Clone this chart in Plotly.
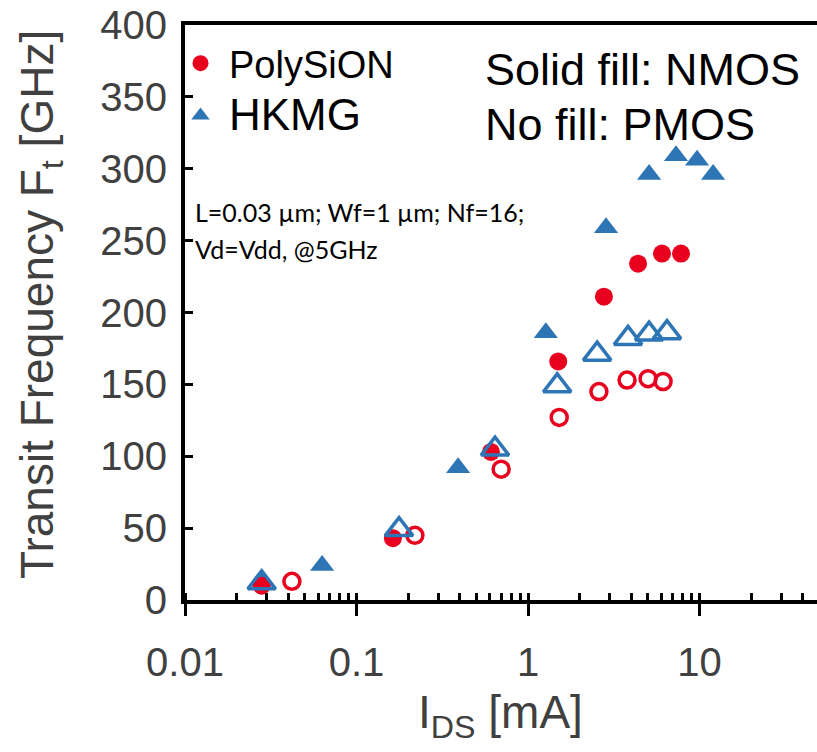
import plotly.graph_objects as go
import math

# PolySiON NMOS (solid fill)
poly_n_ids = [0.028, 0.163, 0.608, 1.50, 2.77, 4.38, 6.04, 7.80]
poly_n_ft = [10, 43, 103, 166, 211, 234, 241, 241]
# PolySiON PMOS (no fill)
poly_p_ids = [0.042, 0.219, 0.697, 1.52, 2.59, 3.78, 5.01, 6.13]
poly_p_ft = [13, 45, 91, 127, 145, 153, 154, 152]
# HKMG NMOS (solid fill)
hkmg_n_ids = [0.028, 0.063, 0.391, 1.27, 2.85, 5.08, 7.29, 9.67, 12.0]
hkmg_n_ft = [13, 24, 92, 186, 259, 296, 309, 306, 296]
# HKMG PMOS (no fill)
hkmg_p_ids = [0.028, 0.177, 0.642, 1.48, 2.53, 3.83, 5.08, 6.46]
hkmg_p_ft = [12, 49, 105, 149, 171, 182, 185, 186]

y_ticks = [0, 50, 100, 150, 200, 250, 300, 350, 400]
x_ticks = [0.01, 0.1, 1, 10]
x_tick_labels = ["0.01", "0.1", "1", "10"]

RED = "#E8001E"
BLUE = "#2E75B6"

W, H = 817, 752
ML, MR, MT, MB = 185, 0, 25, 152
pw = W - ML - MR
ph = H - MT - MB

def px_x(p):
    return (p - ML) / pw

def px_y(p):
    return (H - MB - p) / ph

fig = go.Figure()

fig.add_trace(go.Scatter(
    x=hkmg_n_ids, y=hkmg_n_ft, mode="markers", name="<span style='font-size:44px'>HKMG</span>",
    marker=dict(symbol="triangle-up", size=21, color=BLUE), showlegend=True, legendrank=2))
fig.add_trace(go.Scatter(
    x=poly_n_ids, y=poly_n_ft, mode="markers", name="PolySiON",
    marker=dict(symbol="circle", size=18, color=RED), showlegend=True, legendrank=1))
fig.add_trace(go.Scatter(
    x=poly_p_ids, y=poly_p_ft, mode="markers", name="PolySiON PMOS",
    marker=dict(symbol="circle-open", size=16, color=RED, line=dict(width=3.5, color=RED)),
    showlegend=False))
fig.add_trace(go.Scatter(
    x=hkmg_p_ids, y=hkmg_p_ft, mode="markers", name="HKMG PMOS",
    marker=dict(symbol="triangle-up-open", size=24, color=BLUE, line=dict(width=3.5, color=BLUE)),
    showlegend=False))

title_font = "Liberation Sans Narrow, Arial Narrow, Liberation Sans, Arial"
tick_font = dict(family="Liberation Sans, Arial", size=40, color="#404040")

fig.update_layout(
    width=W, height=H,
    margin=dict(l=ML, r=MR, t=MT, b=MB),
    plot_bgcolor="white", paper_bgcolor="white",
    showlegend=True,
    legend=dict(
        x=px_x(172), y=px_y(32), xanchor="left", yanchor="top",
        font=dict(family="Liberation Sans, Arial", size=38, color="black"),
        bgcolor="rgba(0,0,0,0)", borderwidth=0, itemwidth=47, tracegroupgap=0,
    ),
    xaxis=dict(
        type="log", range=[-2, math.log10(48.4)],
        tickvals=x_ticks, ticktext=x_tick_labels,
        ticks="outside", ticklen=12, tickwidth=3, tickcolor="black",
        minor=dict(ticks="inside", ticklen=7, tickwidth=2.5, tickcolor="black", dtick="D1", showgrid=False),
        showline=True, linewidth=4, linecolor="black", mirror=True,
        showgrid=False, zeroline=False,
        tickfont=tick_font, ticklabelstandoff=12,
    ),
    yaxis=dict(
        range=[0, 400], tickvals=y_ticks,
        ticks="inside", ticklen=8, tickwidth=3, tickcolor="black",
        showline=True, linewidth=4, linecolor="black",
        showgrid=False, zeroline=False,
        tickfont=tick_font, ticklabelstandoff=6,
    ),
    annotations=[
        dict(text="Transit Frequency F<sub>t</sub> [GHz]", textangle=-90,
             xref="paper", yref="paper", x=px_x(40), y=px_y(305),
             xanchor="center", yanchor="middle", showarrow=False,
             font=dict(family=title_font, size=46, color="#404040")),
        dict(text="I<sub>DS</sub> [mA]",
             xref="paper", yref="paper", x=px_x(500), y=px_y(715),
             xanchor="center", yanchor="middle", showarrow=False,
             font=dict(family=title_font, size=46, color="#404040")),
        dict(text="Solid fill: NMOS",
             xref="paper", yref="paper", x=px_x(483), y=px_y(69),
             xanchor="left", yanchor="middle", showarrow=False,
             font=dict(family="Liberation Sans, Arial", size=45, color="black")),
        dict(text="No fill: PMOS",
             xref="paper", yref="paper", x=px_x(483), y=px_y(124),
             xanchor="left", yanchor="middle", showarrow=False,
             font=dict(family="Liberation Sans, Arial", size=45, color="black")),
        dict(text="L=0.03 µm; Wf=1 µm; Nf=16;",
             xref="paper", yref="paper", x=px_x(193), y=px_y(212),
             xanchor="left", yanchor="middle", showarrow=False,
             font=dict(family="Lato, Open Sans, sans-serif", size=25, color="black")),
        dict(text="Vd=Vdd, @5GHz",
             xref="paper", yref="paper", x=px_x(193), y=px_y(249),
             xanchor="left", yanchor="middle", showarrow=False,
             font=dict(family="Lato, Open Sans, sans-serif", size=25, color="black")),
    ],
)

fig.write_html("out.html")
